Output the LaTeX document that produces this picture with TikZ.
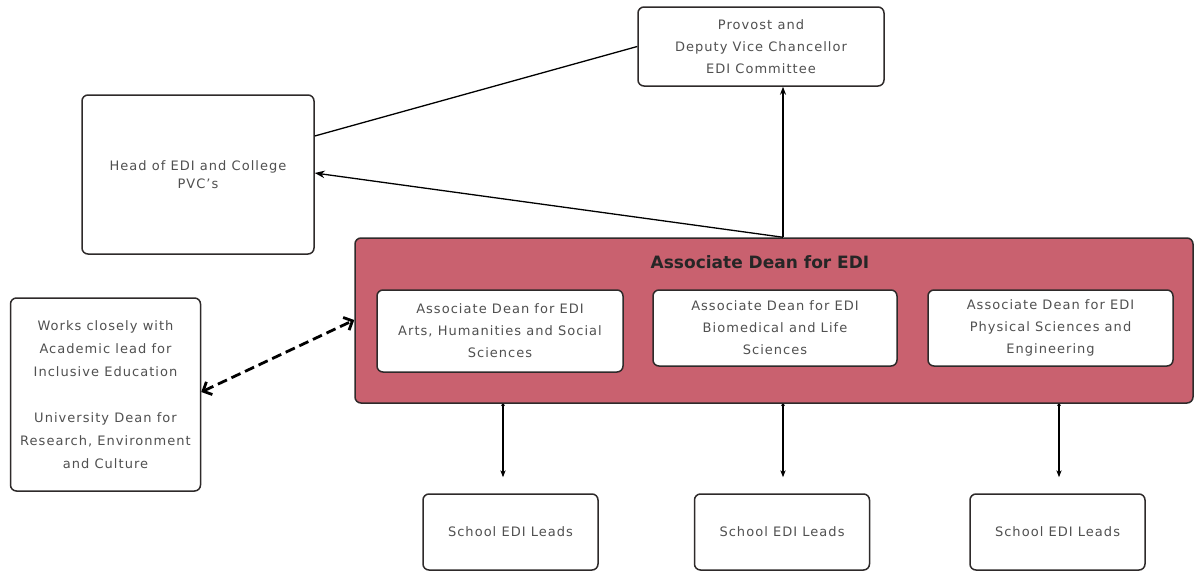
\documentclass[tikz,border=0pt]{standalone}
\usepackage{fontspec}
\setmainfont{DejaVu Sans}[LetterSpace=8]
\newfontfamily\titlefont{DejaVu Sans}
\usetikzlibrary{arrows.meta,positioning}
\definecolor{deanRed}{HTML}{C9616F}
\definecolor{edge}{HTML}{2E2A2A}
\definecolor{ink}{HTML}{505050}

\begin{document}
\begin{tikzpicture}[x=1pt,y=-1pt,
  box/.style={rectangle,rounded corners=6pt,draw=edge,line width=1.5pt,fill=white,
    align=center,text=ink,font=\fontsize{13}{22}\selectfont},
  panel/.style={rectangle,rounded corners=6pt,draw=edge,line width=1.5pt,fill=deanRed},
  link/.style={line width=1.3pt,draw=black},
  lead/.style={line width=1.3pt,{Circle[length=3pt]}-{Stealth[length=7pt]},shorten >=16pt}
]
  \useasboundingbox (0,0) rectangle (1195,574);
  % top of the tree
  \node[box,minimum width=246pt,minimum height=79pt] (pdvc) at (761,46.5) {Provost and\\Deputy Vice Chancellor\\EDI Committee};
  \node[box,minimum width=232pt,minimum height=159pt,font=\fontsize{13}{18}\selectfont] (head) at (198,174.5) {Head of EDI and College\\PVC’s};
  % faculty panel
  \node[panel,minimum width=838pt,minimum height=165pt] (adean) at (774,320.5) {};
  \node[font=\titlefont\bfseries\fontsize{17}{18}\selectfont,text=black!85] (title) at (760,262) {Associate Dean for EDI};
  \node[box,minimum width=246pt,minimum height=82pt] (ahss) at (500,331) {Associate Dean for EDI\\Arts, Humanities and Social\\Sciences};
  \node[box,minimum width=244pt,minimum height=76pt] (bls) at (775,328) {Associate Dean for EDI\\Biomedical and Life\\Sciences};
  \node[box,minimum width=245pt,minimum height=76pt] (pse) at (1050.5,328) {Associate Dean for EDI\\Physical Sciences and\\Engineering};
  % side box
  \node[box,minimum width=190pt,minimum height=193pt,font=\fontsize{13}{23}\selectfont] (works) at (105.5,394.5) {Works closely with\\Academic lead for\\Inclusive Education\\[23pt]University Dean for\\Research, Environment\\and Culture};
  % school leads
  \node[box,minimum width=175pt,minimum height=76pt] (sch1) at (510.5,532) {School EDI Leads};
  \node[box,minimum width=175pt,minimum height=76pt] (sch2) at (782,532) {School EDI Leads};
  \node[box,minimum width=175pt,minimum height=76pt] (sch3) at (1057.5,532) {School EDI Leads};

  \coordinate (up) at ([xshift=9pt]adean.north);
  \draw[link] (pdvc.west) -- ([yshift=38.5pt]head.east);
  \draw[link,-{Stealth[length=8pt]}] (up) -- ([xshift=22pt]pdvc.south);
  \draw[link,-{Stealth[length=10pt]}] (up) -- ([yshift=1.5pt]head.east);
  \draw[line width=2.8pt,dashed,dash pattern=on 10pt off 5pt,{Straight Barb[length=7pt]}-{Straight Barb[length=7pt]}]
    ([yshift=2.5pt]works.east) -- ([yshift=0.5pt]adean.west);

  \coordinate (t1) at ([xshift=-7.5pt]sch1.north);
  \coordinate (t2) at ([xshift=1pt]sch2.north);
  \coordinate (t3) at ([xshift=1.5pt]sch3.north);
  \draw[lead] (t1 |- adean.south) -- (t1);
  \draw[lead] (t2 |- adean.south) -- (t2);
  \draw[lead] (t3 |- adean.south) -- (t3);
\end{tikzpicture}
\end{document}
